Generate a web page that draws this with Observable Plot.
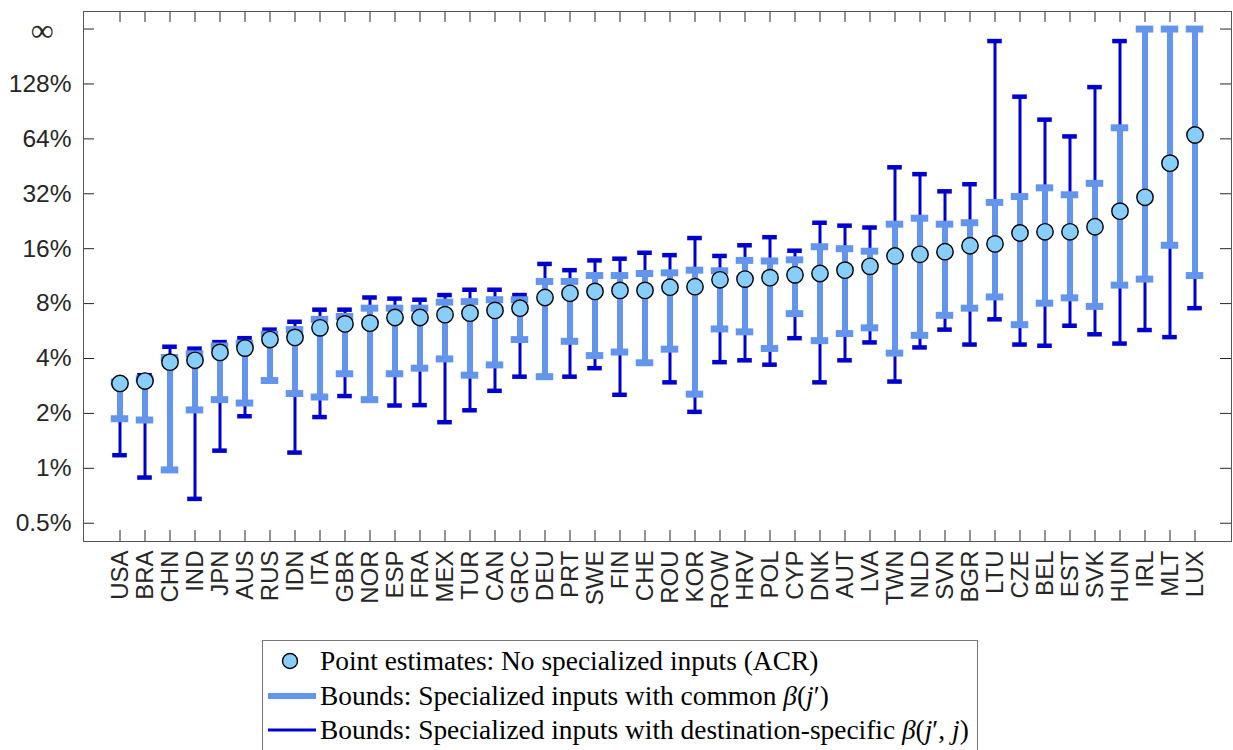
<!DOCTYPE html>
<html><head><meta charset="utf-8">
<script src="https://cdn.jsdelivr.net/npm/d3@7"></script>
<script src="https://cdn.jsdelivr.net/npm/@observablehq/plot@0.6"></script>
<style>
body{margin:0;background:#fff;}
#chart{position:absolute;left:0;top:0;}
#legend{position:absolute;left:262px;top:640px;width:714px;height:118px;border:1px solid #777;background:#fff;font-family:"Liberation Serif","Times New Roman",serif;font-size:27.4px;color:#000;white-space:nowrap;}
.row{position:absolute;left:0;height:34px;display:flex;align-items:center;}
.row svg{flex:none;}
</style></head><body>
<div id="chart"></div>
<div id="legend">
  <div class="row" style="top:3px"><svg width="57" height="34"><circle cx="27" cy="17" r="7.5" fill="#87CEFA" stroke="#000" stroke-width="1.4"/></svg><span>Point estimates: No specialized inputs (ACR)</span></div>
  <div class="row" style="top:38px"><svg width="57" height="34"><line x1="5" x2="53" y1="17" y2="17" stroke="#6495ED" stroke-width="6"/></svg><span>Bounds: Specialized inputs with common <i>β</i>(<i>j</i>′)</span></div>
  <div class="row" style="top:72px"><svg width="57" height="34"><line x1="5" x2="53" y1="17" y2="17" stroke="#0000CD" stroke-width="3"/></svg><span>Bounds: Specialized inputs with destination-specific <i>β</i>(<i>j</i>′, <i>j</i>)</span></div>
</div>
<script>
// ---- data (percent) ----
const countries = ["USA","BRA","CHN","IND","JPN","AUS","RUS","IDN","ITA","GBR","NOR","ESP","FRA","MEX","TUR","CAN","GRC","DEU","PRT","SWE","FIN","CHE","ROU","KOR","ROW","HRV","POL","CYP","DNK","AUT","LVA","TWN","NLD","SVN","BGR","LTU","CZE","BEL","EST","SVK","HUN","IRL","MLT","LUX"];
const pointEstimate = [2.92,3.01,3.82,3.91,4.32,4.56,5.08,5.22,5.89,6.19,6.25,6.71,6.71,6.96,7.09,7.34,7.55,8.64,9.11,9.33,9.45,9.45,9.84,9.9,10.8,10.9,11.1,11.5,11.7,12.2,12.8,14.6,14.9,15.4,16.6,17.0,19.5,19.8,19.8,21.1,25.7,30.6,47.1,67.2];
const commonLo = [1.87,1.84,0.98,2.09,2.38,2.28,3.03,2.57,2.46,3.30,2.38,3.30,3.54,3.98,3.24,3.69,5.08,3.18,4.97,4.15,4.34,3.79,4.5,2.55,5.81,5.6,4.54,7.05,5.01,5.48,5.89,4.28,5.36,6.9,7.55,8.7,6.13,8.04,8.6,7.72,10.1,10.9,16.7,11.4];
const commonHi = [2.97,3.1,4.05,4.24,4.68,4.85,5.43,5.76,6.56,6.80,7.55,7.55,7.55,8.15,8.2,8.4,8.4,10.58,10.58,11.4,11.4,11.7,11.8,12.2,12.1,13.8,13.7,13.9,16.4,16.0,15.5,21.8,23.5,21.8,22.2,28.7,30.9,34.5,31.6,36.5,73.6,Infinity,Infinity,Infinity];
const destLo = [1.18,0.89,0.98,0.68,1.25,1.93,3.03,1.22,1.91,2.49,2.38,2.21,2.22,1.79,2.08,2.66,3.18,3.18,3.18,3.54,2.53,3.79,2.96,2.04,3.82,3.91,3.7,5.17,2.96,3.91,4.9,2.99,4.6,5.76,4.77,6.56,4.77,4.7,6.05,5.43,4.83,5.73,5.24,7.55];
const destHi = [3.0,3.24,4.64,4.53,4.92,5.17,5.76,6.36,7.41,7.41,8.64,8.52,8.4,8.91,9.53,9.53,8.91,13.2,12.2,13.8,14.1,15.2,14.75,18.3,14.6,16.7,18.5,15.6,22.2,21.4,20.9,44.7,41,33,36.1,220,109,81.6,66,123,220,Infinity,Infinity,Infinity];
const yTicks = [0.5,1,2,4,8,16,32,64,128];
const yTickLabels = ["0.5%","1%","2%","4%","8%","16%","32%","64%","128%"];
const INF_POS = 256; // axis position where "∞" is drawn
const infLabel = "∞";

// ---- styles ----
const LIGHT = "#6495ED", DARK = "#0000CD", POINT = "#87CEFA", INK = "#262626";
const W = 1233, H = 620, mt = 11, mb = 79, ml = 83, mr = 2;
const pw = W - ml - mr, ph = H - mt - mb;
const fin = v => v === Infinity ? INF_POS : v;
const data = countries.map((c, i) => ({c, p: pointEstimate[i], cLo: commonLo[i], cHi: fin(commonHi[i]), dLo: destLo[i], dHi: fin(destHi[i])}));
const allTicks = yTicks.concat([INF_POS]);
const tickTable = yTicks.map((v, i) => ({v, label: yTickLabels[i]}));

const chart = Plot.plot({
  width: W, height: H, marginTop: mt, marginBottom: mb, marginLeft: ml, marginRight: mr,
  style: {background: "transparent", fontFamily: "'Liberation Sans', Arial, sans-serif", color: INK},
  x: {type: "band", domain: countries, paddingInner: 0, paddingOuter: 0.5},
  y: {type: "log", domain: [0.397, 319.5], axis: null},
  marks: [
    Plot.ruleX(data, {x: "c", y1: "dLo", y2: "dHi", stroke: DARK, strokeWidth: 3}),
    Plot.tickY(data, {x: "c", y: "dLo", stroke: DARK, strokeWidth: 4.5, insetLeft: 5.2, insetRight: 5.2}),
    Plot.tickY(data, {x: "c", y: "dHi", stroke: DARK, strokeWidth: 4.5, insetLeft: 5.2, insetRight: 5.2}),
    Plot.ruleX(data, {x: "c", y1: "cLo", y2: "cHi", stroke: LIGHT, strokeWidth: 6}),
    Plot.tickY(data, {x: "c", y: "cLo", stroke: LIGHT, strokeWidth: 7, insetLeft: 3.75, insetRight: 3.75}),
    Plot.tickY(data, {x: "c", y: "cHi", stroke: LIGHT, strokeWidth: 7, insetLeft: 3.75, insetRight: 3.75}),
    Plot.dot(data, {x: "c", y: "p", r: 8.2, fill: POINT, stroke: "#000", strokeWidth: 1.4}),
    Plot.ruleY(allTicks, {y: d => d, insetRight: pw - 11, stroke: INK}),
    Plot.ruleY(allTicks, {y: d => d, insetLeft: pw - 11, stroke: INK}),
    Plot.ruleX(countries, {x: d => d, insetBottom: ph - 11, stroke: INK}),
    Plot.ruleX(countries, {x: d => d, insetTop: ph - 11, stroke: INK}),
    Plot.text(tickTable, {y: "v", text: "label", frameAnchor: "left", textAnchor: "end", dx: -12, fontSize: 24.5, fill: INK}),
    Plot.text([INF_POS], {y: d => d, text: () => infLabel, frameAnchor: "left", textAnchor: "end", dx: -30, dy: 2, fontSize: 32, fontFamily: "'Liberation Serif', serif", fill: INK}),
    Plot.axisX(countries, {anchor: "bottom", tickSize: 0, tickRotate: -90, tickPadding: 9, fontSize: 24, label: null}),
    Plot.frame({stroke: "#555", strokeWidth: 1})
  ]
});
document.getElementById("chart").appendChild(chart);
</script>
</body></html>
